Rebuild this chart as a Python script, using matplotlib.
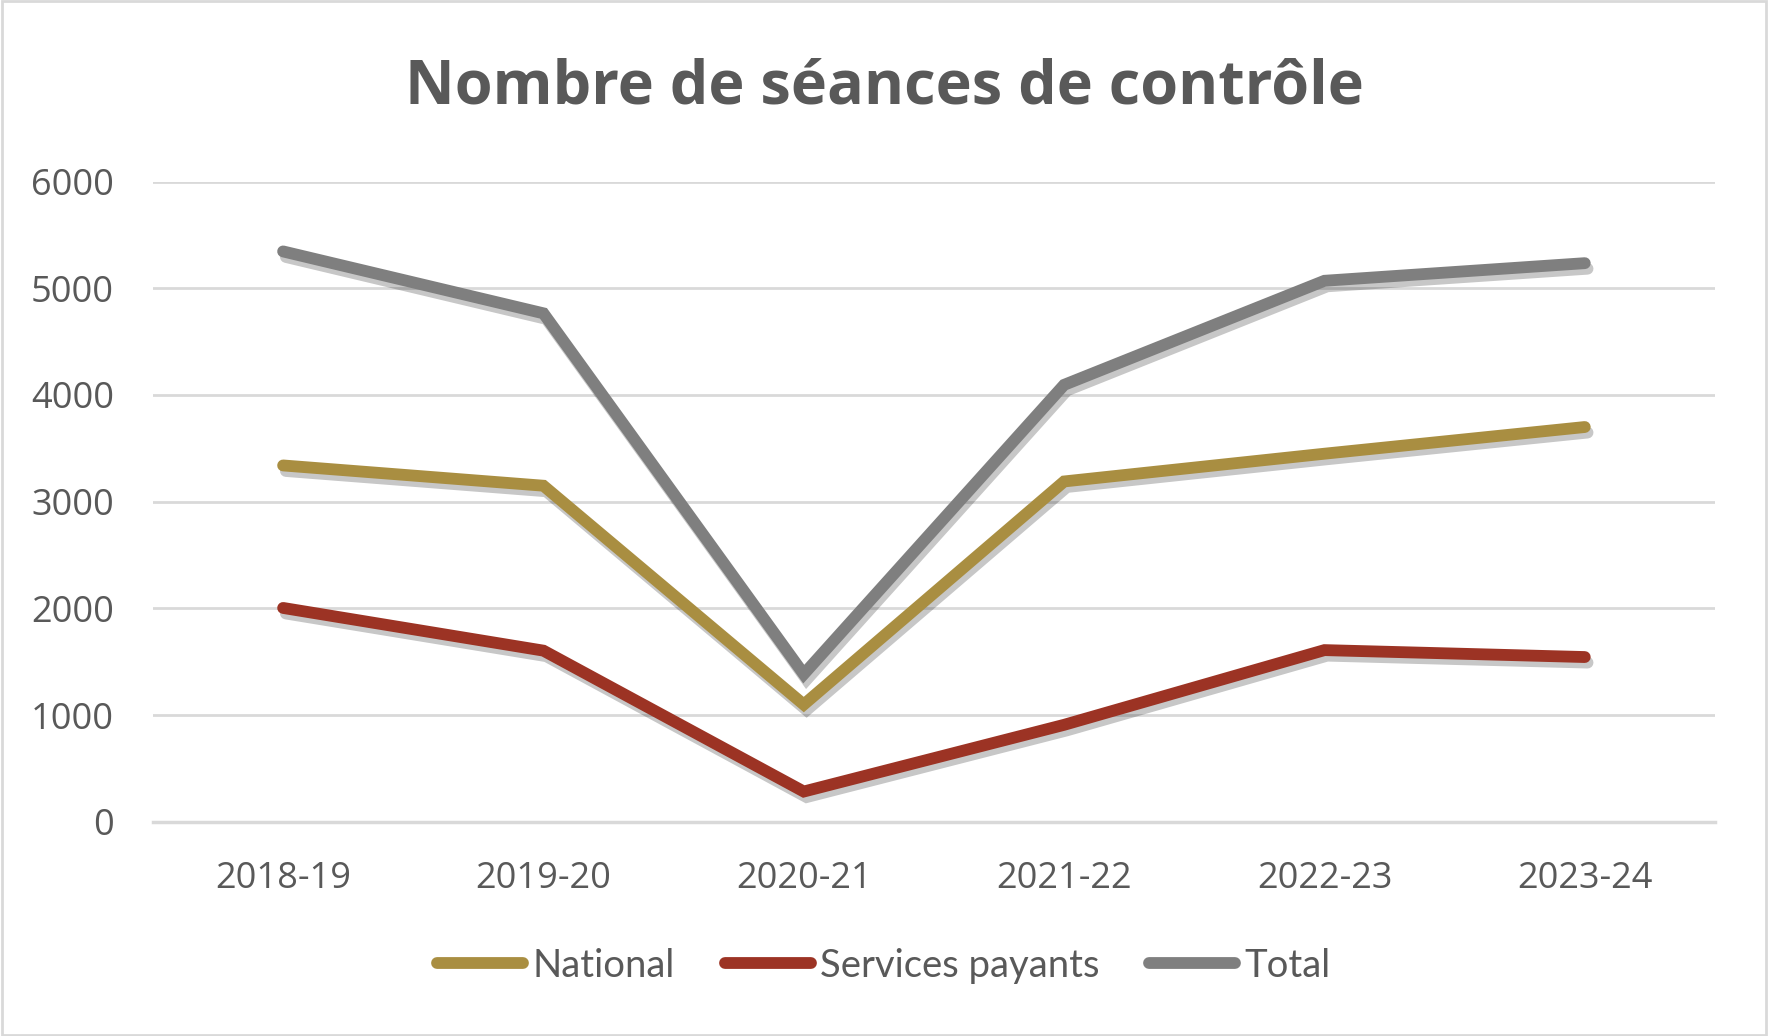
import matplotlib.pyplot as plt
import matplotlib.patheffects as pe

seasons = ["2018-19", "2019-20", "2020-21", "2021-22", "2022-23", "2023-24"]
national = [3340, 3150, 1100, 3190, 3450, 3700]
services_payants = [2005, 1605, 285, 910, 1610, 1545]
total = [5345, 4765, 1385, 4095, 5070, 5235]

text_color = "#595959"
grid_color = "#D9D9D9"

plt.rcParams["font.family"] = ["Open Sans", "DejaVu Sans"]

fig = plt.figure(figsize=(17.68, 10.36), dpi=100)
ax = fig.add_axes([0.0865, 0.2066, 0.8835, 0.6182])

x = range(len(seasons))
shadow = [pe.SimpleLineShadow(offset=(2, -4), shadow_color="black", alpha=0.22), pe.Normal()]
ax.plot(x, national, color="#A98E41", lw=8.5, solid_capstyle="round",
        solid_joinstyle="miter", label="National", path_effects=shadow)
ax.plot(x, services_payants, color="#9C3324", lw=8.5, solid_capstyle="round",
        solid_joinstyle="miter", label="Services payants", path_effects=shadow)
ax.plot(x, total, color="#7F7F7F", lw=8.5, solid_capstyle="round",
        solid_joinstyle="miter", label="Total", path_effects=shadow)

ax.set_xlim(-0.5, 5.5)
ax.set_ylim(0, 6000)
ax.set_yticks(range(0, 6001, 1000))
ax.set_xticks(list(x))
ax.set_xticklabels(seasons)
ax.grid(axis="y", color=grid_color, lw=2)
ax.set_axisbelow(True)
for side in ["top", "right", "left"]:
    ax.spines[side].set_visible(False)
ax.spines["bottom"].set_color(grid_color)
ax.spines["bottom"].set_linewidth(2.5)
ax.tick_params(axis="both", length=0, labelsize=26, colors=text_color)
ax.tick_params(axis="y", pad=28)
ax.tick_params(axis="x", pad=28)

fig.text(0.5, 0.915, "Nombre de séances de contrôle", ha="center", va="center",
         fontsize=44, fontweight="bold", color=text_color)

leg = fig.legend(loc="center", bbox_to_anchor=(0.5, 0.068), ncol=3, frameon=False,
                 handlelength=2.25, handletextpad=0.25, columnspacing=1.3,
                 labelcolor=text_color, prop={"family": ["Lato", "DejaVu Sans"], "size": 27.5})
for line in leg.get_lines():
    line.set_path_effects([])
    line.set_solid_capstyle("round")

fig.patches.append(plt.Rectangle((0.001, 0.001), 0.998, 0.998, transform=fig.transFigure,
                                 fill=False, edgecolor=grid_color, lw=2))

fig.savefig("out.png", dpi=100)
